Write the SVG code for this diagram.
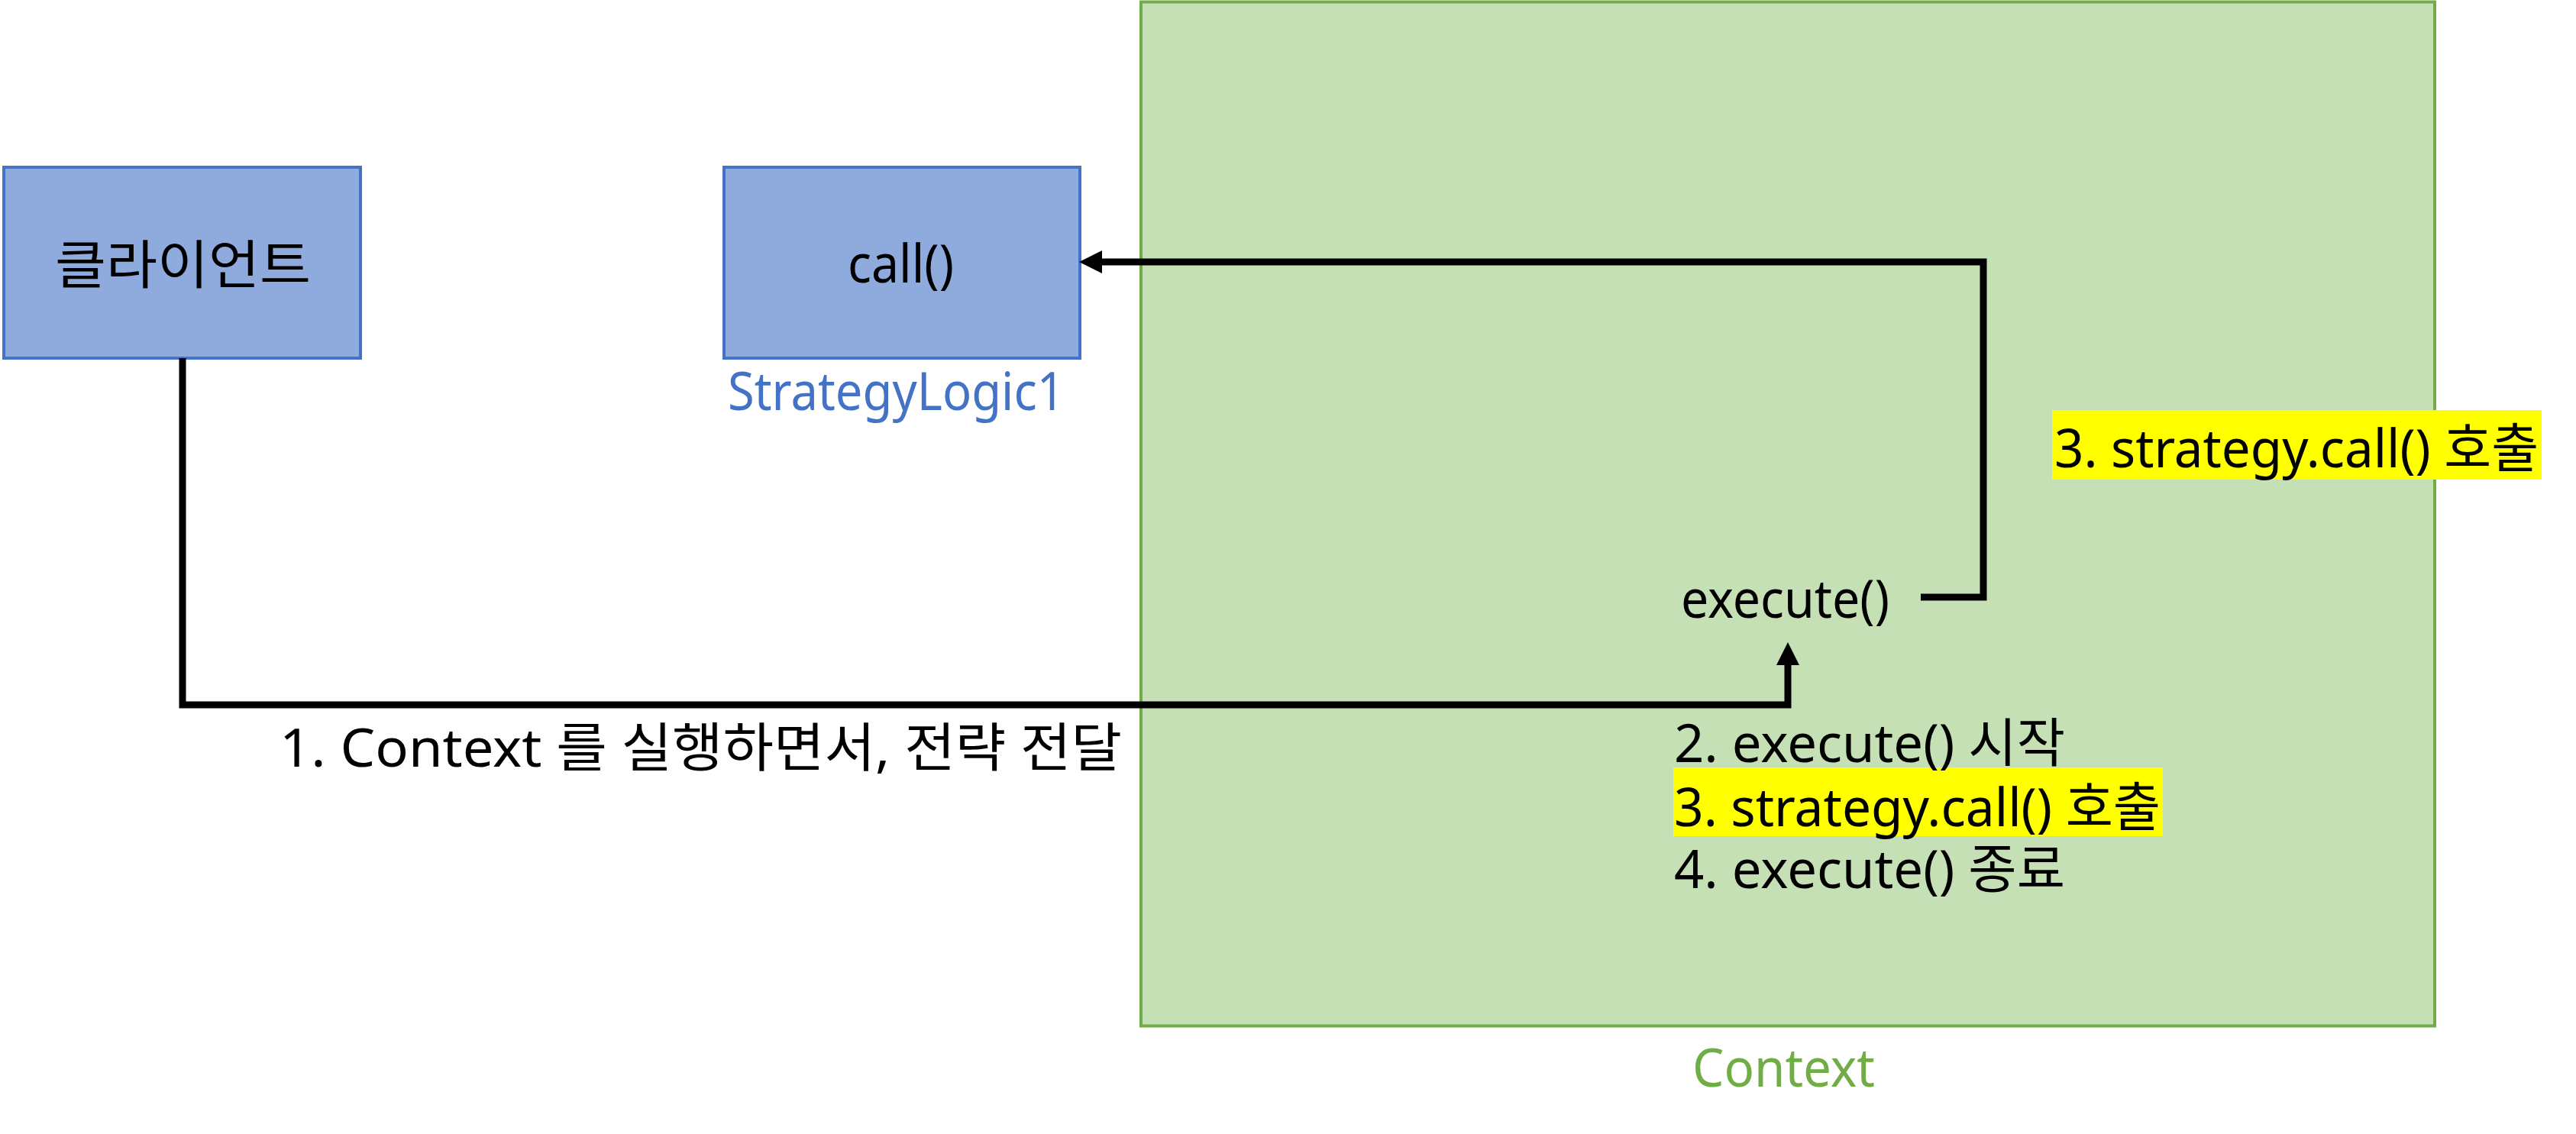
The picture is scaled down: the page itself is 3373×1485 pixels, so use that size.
<svg xmlns="http://www.w3.org/2000/svg" width="3373" height="1485" viewBox="0 0 3373 1485">
<style>
.t{font-family:"Noto Sans","Noto Sans CJK KR",sans-serif;font-size:69px;fill:#000}
.blue{fill:#8FAADC;stroke:#4472C4;stroke-width:4}
.conn{fill:none;stroke:#000;stroke-width:9;stroke-linejoin:miter;stroke-linecap:butt}
.hl{fill:#FFFF00}
</style>
<defs>
<marker id="arrow" viewBox="0 0 30 30" refX="0" refY="15" markerWidth="30" markerHeight="30" orient="auto" markerUnits="userSpaceOnUse">
<path d="M0,0 L30,15 L0,30 z" fill="#000"/>
</marker>
</defs>
<rect width="3373" height="1485" fill="#fff"/>
<g id="context">
<rect x="1494" y="2.5" width="1694" height="1341" fill="#C5E0B4" stroke="#70AD47" stroke-width="4"/>
<text class="t" x="2216" y="1423" textLength="239" lengthAdjust="spacingAndGlyphs" style="fill:#70AD47">Context</text>
<text class="t" x="2201" y="809" textLength="273" lengthAdjust="spacingAndGlyphs">execute()</text>
<rect class="hl" x="2191" y="1005" width="641" height="90"/>
<text class="t" x="2192" y="998" textLength="512" lengthAdjust="spacingAndGlyphs">2. execute() 시작</text>
<text class="t" x="2192" y="1082" textLength="637" lengthAdjust="spacingAndGlyphs">3. strategy.call() 호출</text>
<text class="t" x="2192" y="1163" textLength="512" lengthAdjust="spacingAndGlyphs">4. execute() 종료</text>
</g>
<g id="client">
<rect class="blue" x="5" y="219" width="467" height="250"/>
<text class="t" x="72" y="372" textLength="335" lengthAdjust="spacingAndGlyphs">클라이언트</text>
</g>
<g id="strategy">
<rect class="blue" x="948" y="219" width="466" height="250"/>
<text class="t" x="1110" y="370" textLength="139" lengthAdjust="spacingAndGlyphs">call()</text>
<text class="t" x="953" y="537" textLength="441" lengthAdjust="spacingAndGlyphs" style="fill:#4472C4">StrategyLogic1</text>
</g>
<g id="note-right">
<rect class="hl" x="2687" y="537" width="641" height="91"/>
<text class="t" x="2690" y="612" textLength="634" lengthAdjust="spacingAndGlyphs">3. strategy.call() 호출</text>
</g>
<g id="connectors">
<path class="conn" d="M239 469 V923 H2341 V871" marker-end="url(#arrow)"/>
<path class="conn" d="M2515 782 H2597 V343 H1443" marker-end="url(#arrow)"/>
<text class="t" x="366" y="1004" textLength="1103" lengthAdjust="spacingAndGlyphs">1. Context 를 실행하면서, 전략 전달</text>
</g>
</svg>
